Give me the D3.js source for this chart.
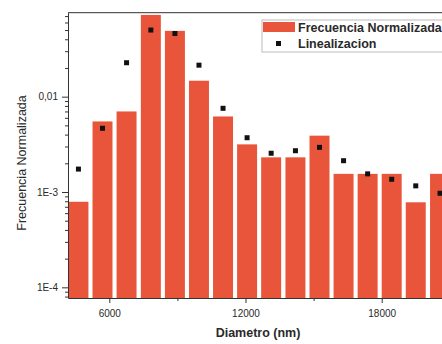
<!DOCTYPE html>
<html>
<head>
<meta charset="utf-8">
<script src="https://cdn.jsdelivr.net/npm/d3@7"></script>
<style>
  body { margin: 0; background: #fff; }
  svg { display: block; overflow: hidden; }
  text { font-family: "Liberation Sans", Arial, sans-serif; fill: #2a2a2a; }
</style>
</head>
<body>
<div id="chart"></div>
<script>
// diameters (nm) at the bin centres
const diametros = [4640, 5700, 6760, 7830, 8890, 9950, 11010, 12070, 13130, 14200, 15260, 16320, 17380, 18440, 19500, 20570];
// normalised frequency (bars)
const frecuencia = [7.9e-4, 5.5e-3, 7.0e-3, 0.072, 0.049, 0.0147, 6.2e-3, 3.16e-3, 2.31e-3, 2.31e-3, 3.9e-3, 1.55e-3, 1.55e-3, 1.55e-3, 7.8e-4, 1.55e-3];
// linear fit points
const linealizacion = [1.74e-3, 4.66e-3, 0.0227, 0.050, 0.046, 0.0214, 7.55e-3, 3.71e-3, 2.55e-3, 2.71e-3, 2.94e-3, 2.13e-3, 1.55e-3, 1.36e-3, 1.16e-3, 9.7e-4];
const xTicks = [6000, 12000, 18000];
const xMinorTicks = [9000, 15000];
const yTicks = [1e-4, 1e-3, 1e-2];
const yTickLabels = ["1E-4", "1E-3", "0,01"];
const legendLabels = ["Frecuencia Normalizada", "Linealizacion"];

const width = 442, height = 344;
const plotLeft = 68, plotTop = 12.7, plotBottom = 298, plotRight = 470;
const barHalf = 440;
const barColor = "#e9553a";

const svg = d3.select("#chart").append("svg")
  .attr("width", width)
  .attr("height", height);

const x = d3.scaleLinear().domain([4180, 21890]).range([plotLeft, plotRight]);
const y = d3.scaleLog().domain([7.73e-5, 0.076]).range([plotBottom, plotTop]);

// bars
svg.append("g").selectAll("rect")
  .data(diametros)
  .enter()
  .append("rect")
  .attr("x", d => x(d - barHalf))
  .attr("width", d => x(d + barHalf) - x(d - barHalf))
  .attr("y", (d, i) => y(frecuencia[i]))
  .attr("height", (d, i) => plotBottom - y(frecuencia[i]))
  .attr("fill", barColor);

// fit points
svg.append("g").selectAll("rect")
  .data(diametros)
  .enter()
  .append("rect")
  .attr("x", d => x(d) - 2.5)
  .attr("y", (d, i) => y(linealizacion[i]) - 2.5)
  .attr("width", 5)
  .attr("height", 5)
  .attr("fill", "#111");

// x axis
let xAxis = svg.append("g")
  .attr("transform", "translate(0," + plotBottom + ")")
  .call(d3.axisBottom(x).tickValues(xTicks).tickFormat(d3.format("d")).tickSize(5).tickSizeOuter(0));
svg.append("g")
  .attr("transform", "translate(0," + plotBottom + ")")
  .call(d3.axisBottom(x).tickValues(xMinorTicks).tickFormat("").tickSize(3).tickSizeOuter(0))
  .select(".domain").remove();
xAxis.selectAll("text").attr("font-size", 10).attr("dy", "1.1em");

// y axis, with minor ticks inside each decade
let minors = [];
[1e-4, 1e-3, 1e-2].forEach(dec => {
  for (let k = 2; k < 10; k++) {
    let v = dec * k;
    if (v < 0.076) minors.push(v);
  }
});
minors.push(8e-5, 9e-5);
svg.append("g")
  .attr("transform", "translate(" + plotLeft + ",0)")
  .call(d3.axisLeft(y).tickValues(minors).tickFormat("").tickSize(3).tickSizeOuter(0))
  .select(".domain").remove();
let yAxis = svg.append("g")
  .attr("transform", "translate(" + plotLeft + ",0)")
  .call(d3.axisLeft(y).tickValues(yTicks).tickFormat((d, i) => yTickLabels[i]).tickSize(6).tickSizeOuter(0));
yAxis.selectAll("text").attr("font-size", 10).attr("dx", "-0.1em");

svg.selectAll(".domain").attr("stroke", "#333");
svg.selectAll(".tick line").attr("stroke", "#333");

// top frame line
svg.append("line")
  .attr("x1", plotLeft).attr("x2", plotRight)
  .attr("y1", plotTop).attr("y2", plotTop)
  .attr("stroke", "#333");

// axis titles
svg.append("text")
  .attr("x", 258)
  .attr("y", 337)
  .attr("text-anchor", "middle")
  .attr("font-size", 12.5)
  .attr("font-weight", "bold")
  .text("Diametro (nm)");

svg.append("text")
  .attr("transform", "translate(26,163) rotate(-90)")
  .attr("text-anchor", "middle")
  .attr("font-size", 12.5)
  .text("Frecuencia Normalizada");

// legend
let legend = svg.append("g").attr("transform", "translate(262,20)");
legend.append("rect")
  .attr("x", 0).attr("y", 0)
  .attr("width", 200).attr("height", 32)
  .attr("fill", "#fff")
  .attr("stroke", "#bbb");
legend.append("rect")
  .attr("x", 1).attr("y", 2)
  .attr("width", 32).attr("height", 10)
  .attr("fill", barColor);
legend.append("rect")
  .attr("x", 14).attr("y", 21)
  .attr("width", 5).attr("height", 5)
  .attr("fill", "#111");
legend.selectAll("text.lab")
  .data(legendLabels)
  .enter()
  .append("text")
  .attr("class", "lab")
  .attr("x", 36)
  .attr("y", (d, i) => 11.8 + i * 16.5)
  .attr("font-size", 12.5)
  .attr("font-weight", "bold")
  .text(d => d);
</script>
</body>
</html>
